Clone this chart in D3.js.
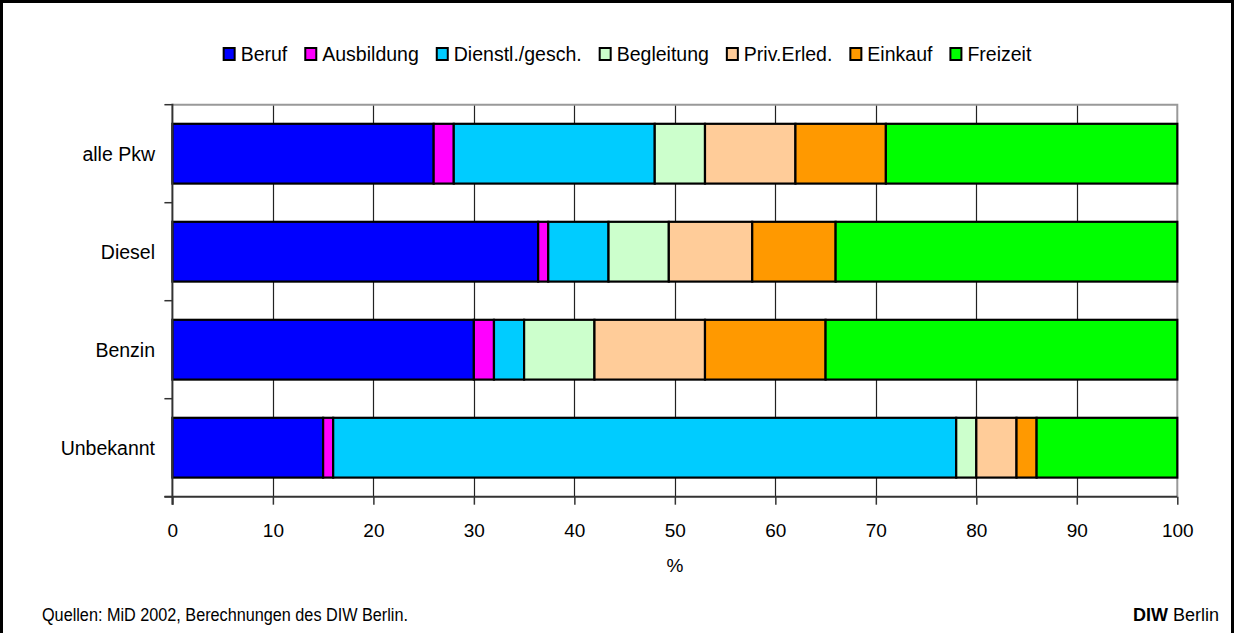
<!DOCTYPE html>
<html>
<head>
<meta charset="utf-8">
<script src="https://cdn.jsdelivr.net/npm/d3@7"></script>
<style>
  html, body { margin: 0; padding: 0; background: #fff; }
  svg { display: block; font-family: "Liberation Sans", Arial, sans-serif; }
</style>
</head>
<body>
<svg id="chart" width="1235" height="633"></svg>
<script>
const categories = ["alle Pkw", "Diesel", "Benzin", "Unbekannt"];
const seriesNames = ["Beruf", "Ausbildung", "Dienstl./gesch.", "Begleitung", "Priv.Erled.", "Einkauf", "Freizeit"];
const seriesColors = ["#0000FF", "#FF00FF", "#00CCFF", "#CCFFCC", "#FFCC99", "#FF9900", "#00FF00"];
const beruf      = [26, 36.4, 30, 15];
const ausbildung = [2, 1.0, 2, 1];
const dienstl    = [20, 6.0, 3, 62];
const begleitung = [5, 6.0, 7, 2];
const privErled  = [9, 8.3, 11, 4];
const einkauf    = [9, 8.3, 12, 2];
const freizeit   = [29, 34.0, 35, 14];
const xTicks = [0, 10, 20, 30, 40, 50, 60, 70, 80, 90, 100];
const xLabel = "%";
const sourceText = "Quellen: MiD 2002, Berechnungen des DIW Berlin.";

(function () {
const seriesValues = [beruf, ausbildung, dienstl, begleitung, privErled, einkauf, freizeit];
const rows = categories.map((c, i) => {
  const r = { cat: c };
  seriesNames.forEach((s, j) => r[s] = seriesValues[j][i]);
  return r;
});

const svg = d3.select("#chart");
const fs = 19;

// outer frame
svg.append("rect").attr("x", 1.5).attr("y", 1.5).attr("width", 1231).attr("height", 660)
  .attr("fill", "none").attr("stroke", "#000").attr("stroke-width", 3);

const pLeft = 172.4, pRight = 1177.3, pTop = 104.7, pBottom = 496.7;
const x = d3.scaleLinear().domain([0, 100]).range([pLeft, pRight]);
const y = d3.scaleBand().domain(categories).range([pTop, pBottom]).paddingInner(0.39).paddingOuter(0.195);

// gridlines
svg.append("g").selectAll("line").data(xTicks.filter(t => t > 0 && t < 100)).join("line")
  .attr("x1", d => Math.round(x(d)) + 0.5).attr("x2", d => Math.round(x(d)) + 0.5)
  .attr("y1", pTop).attr("y2", pBottom)
  .attr("stroke", "#222").attr("stroke-width", 1.2);

// top & right border of plot (gray)
svg.append("path")
  .attr("d", `M${pLeft},${pTop}H${x(100)}V${pBottom}`)
  .attr("fill", "none").attr("stroke", "#999").attr("stroke-width", 2);

// stacked bars
const stack = d3.stack().keys(seriesNames)(rows);
const color = d3.scaleOrdinal().domain(seriesNames).range(seriesColors);
svg.append("g").selectAll("g").data(stack).join("g")
  .attr("fill", d => color(d.key))
  .selectAll("rect").data(d => d).join("rect")
  .attr("x", d => x(d[0])).attr("width", d => x(d[1]) - x(d[0]))
  .attr("y", d => y(d.data.cat)).attr("height", y.bandwidth())
  .attr("stroke", "#000").attr("stroke-width", 2.2);

// x axis
const xAxis = d3.axisBottom(x).tickValues(xTicks).tickSizeInner(8).tickSizeOuter(0).tickPadding(19);
const gx = svg.append("g").attr("transform", `translate(0,${pBottom})`).call(xAxis);
gx.select(".domain").attr("stroke", "#333").attr("stroke-width", 2).attr("d", `M${pLeft - 8},0H${pRight}`);
gx.selectAll(".tick line").attr("stroke", "#333").attr("stroke-width", 1.5);
gx.selectAll(".tick text").attr("font-size", fs).attr("fill", "#000").attr("font-family", "Liberation Sans, Arial, sans-serif");

// y axis ticks at band boundaries
const bounds = [pTop, ...categories.map(c => y(c) + y.bandwidth() + y.step() * 0.195)];
const gy = svg.append("g");
gy.append("line").attr("x1", pLeft).attr("x2", pLeft).attr("y1", pTop - 1).attr("y2", pBottom + 8)
  .attr("stroke", "#333").attr("stroke-width", 2);
gy.selectAll("line.t").data(bounds).join("line").attr("class", "t")
  .attr("x1", pLeft - 8).attr("x2", pLeft).attr("y1", d => d).attr("y2", d => d)
  .attr("stroke", "#333").attr("stroke-width", 1.5);
gy.selectAll("text").data(categories).join("text")
  .attr("x", 155).attr("y", d => y(d) + y.bandwidth() / 2)
  .attr("dy", "0.35em").attr("text-anchor", "end").attr("font-size", 19.5).text(d => d);

// x axis label
svg.append("text").attr("x", x(50)).attr("y", 572).attr("text-anchor", "middle")
  .attr("font-size", fs).text(xLabel);

// legend
const legend = svg.append("g");
let lx = 0;
const gapAfterText = 18;
seriesNames.forEach((s, i) => {
  const g = legend.append("g").attr("transform", `translate(${lx},0)`);
  g.append("rect").attr("x", 0).attr("y", -6).attr("width", 11).attr("height", 12)
    .attr("fill", seriesColors[i]).attr("stroke", "#000").attr("stroke-width", 2);
  const t = g.append("text").attr("x", 17).attr("y", 0).attr("dy", "0.35em")
    .attr("font-size", 19.5).text(s);
  const w = t.node().getComputedTextLength();
  lx += 17 + w + gapAfterText;
});
const totalW = lx - gapAfterText;
legend.attr("transform", `translate(${627.5 - totalW / 2},54)`);

// footer
svg.append("text").attr("x", 42).attr("y", 621).attr("font-size", 18)
  .attr("textLength", 366).attr("lengthAdjust", "spacingAndGlyphs").text(sourceText);
const diw = svg.append("text").attr("x", 1219).attr("y", 621).attr("text-anchor", "end").attr("font-size", 18);
diw.append("tspan").attr("font-weight", "bold").text("DIW");
diw.append("tspan").text(" Berlin");
})();
</script>
</body>
</html>
